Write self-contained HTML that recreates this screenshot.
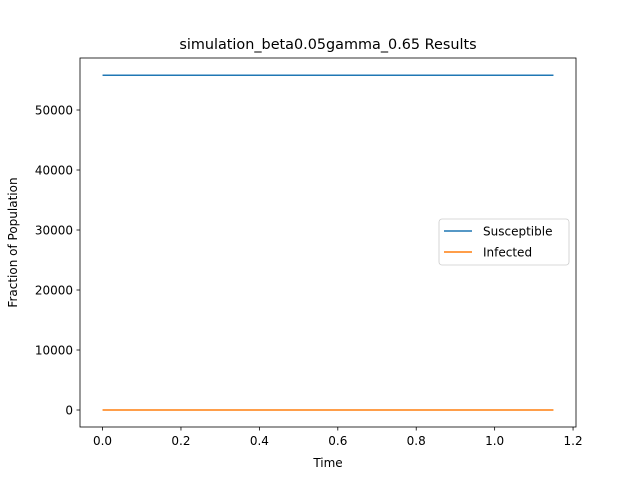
<!DOCTYPE html>
<html><head><meta charset="utf-8"><style>
body{margin:0;background:#fff;}
svg text{font-family:"DejaVu Sans","Liberation Sans",sans-serif;fill:#000;}
</style></head><body>
<svg id="chart" width="640" height="480" xmlns="http://www.w3.org/2000/svg">
<rect width="640" height="480" fill="#fff"/>
<text x="328" y="49" font-size="14.4" text-anchor="middle">simulation_beta0.05gamma_0.65 Results</text>
<g id="xt"></g><g id="yt"></g><g id="series"></g>
<rect x="80" y="58" width="496" height="369" fill="none" stroke="#000" stroke-width="0.8"/>
<text x="328" y="467" font-size="12" text-anchor="middle">Time</text>
<text transform="translate(17,242.5) rotate(-90)" font-size="12" text-anchor="middle">Fraction of Population</text>
<g>
<rect x="439" y="219" width="130" height="46" rx="3" fill="#fff" fill-opacity="0.8" stroke="#ccc" stroke-width="0.8"/>
<line x1="444" y1="231" x2="472" y2="231" stroke="#1f77b4" stroke-width="1.5"/>
<text x="483" y="235.5" font-size="12">Susceptible</text>
<line x1="444" y1="252" x2="472" y2="252" stroke="#ff7f0e" stroke-width="1.5"/>
<text x="483" y="256.5" font-size="12">Infected</text>
</g>
</svg>
<script>
const times = [0, 0.25, 0.5, 0.75, 1.0, 1.15];
const susceptible = [55800, 55800, 55800, 55800, 55800, 55800];
const infected = [10, 10, 10, 10, 10, 10];
const xTicks = [0.0, 0.2, 0.4, 0.6, 0.8, 1.0, 1.2];
const yTicks = [0, 10000, 20000, 30000, 40000, 50000];
const NS="http://www.w3.org/2000/svg";
const xMin=-0.0575,xMax=1.2075,yMin=-2833,yMax=58667;
const X=v=>80+(v-xMin)/(xMax-xMin)*496;
const Y=v=>427-(v-yMin)/(yMax-yMin)*369;
function mk(t,a,p){const e=document.createElementNS(NS,t);for(const k in a)e.setAttribute(k,a[k]);p.appendChild(e);return e;}
const xt=document.getElementById('xt'),yt=document.getElementById('yt'),sg=document.getElementById('series');
xTicks.forEach(v=>{
 const l=mk('line',{x1:X(v),x2:X(v),y1:427,y2:430.5,stroke:'#000','stroke-width':0.8},xt);
 
 
 const t=mk('text',{x:X(v),y:445,'font-size':12,'text-anchor':'middle'},xt);t.textContent=v.toFixed(1);
 
 
});
yTicks.forEach(v=>{
 const l=mk('line',{x1:76.5,x2:80,y1:Y(v),y2:Y(v),stroke:'#000','stroke-width':0.8},yt);
 
 
 const t=mk('text',{x:73,y:Y(v)+4.5,'font-size':12,'text-anchor':'end'},yt);t.textContent=v;
 
 
});
function line(vals,color,name){
 const p=mk('polyline',{points:times.map((t,i)=>X(t)+','+Y(vals[i])).join(' '),fill:'none',stroke:color,'stroke-width':1.5},sg);
 
 
}
line(susceptible,'#1f77b4','susceptible-line');
line(infected,'#ff7f0e','infected-line');
</script>
</body></html>
